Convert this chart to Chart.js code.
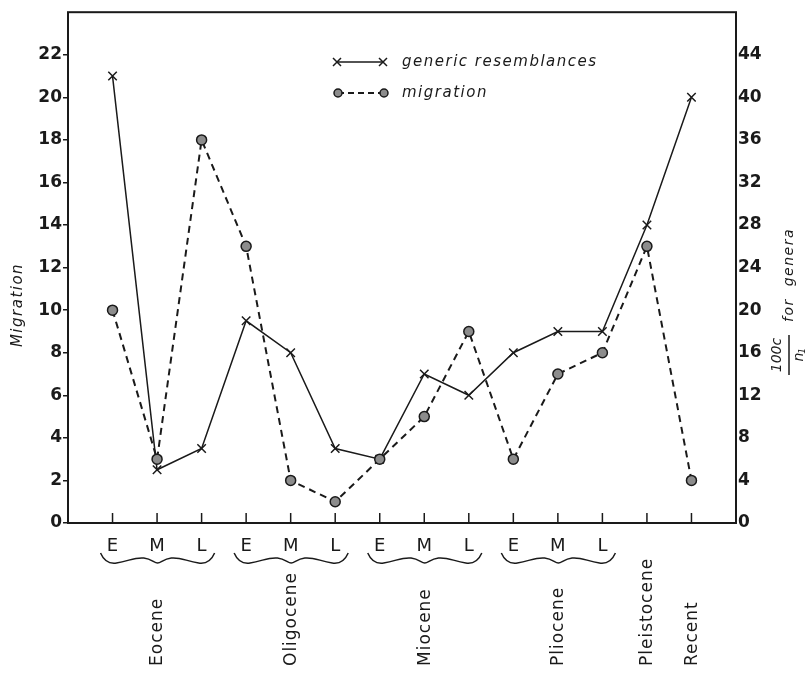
<!DOCTYPE html>
<html>
<head>
<meta charset="utf-8">
<script src="https://cdn.jsdelivr.net/npm/chart.js@4/dist/chart.umd.min.js"></script>
<style>
  body { margin: 0; background: #fff; }
  #wrap { width: 808px; height: 674px; position: relative; }
</style>
</head>
<body>
<div id="wrap"><canvas id="migrationChart"></canvas></div>
<script>
// stage labels under each tick (Pleistocene and Recent have none)
var stageLabels = ["E", "M", "L", "E", "M", "L", "E", "M", "L", "E", "M", "L", "", ""];
// epochs and the first/last stage index each one covers
var epochNames = ["Eocene", "Oligocene", "Miocene", "Pliocene", "Pleistocene", "Recent"];
var epochSpans = [[0, 2], [3, 5], [6, 8], [9, 11], [12, 12], [13, 13]];
// 100c/n1 for genera (right axis)
var genericValues = [42, 5, 7, 19, 16, 7, 6, 14, 12, 16, 18, 18, 28, 40];
// migration (left axis)
var migrationValues = [10, 3, 18, 13, 2, 1, 3, 5, 9, 3, 7, 8, 13, 2];

var ink = "#1a1a1a";
var tickFont = { family: "DejaVu Sans", size: 17, weight: "bold" };

function toPoints(values) {
    return values.map(function(v, i) { return { x: i, y: v }; });
}

// wavy curly brace, ends up, dip in the middle
function brace(ctx, x0, x1, y) {
    var w = x1 - x0;
    ctx.beginPath();
    ctx.moveTo(x0, y - 2);
    ctx.bezierCurveTo(x0 + w * 0.03, y + 6, x0 + w * 0.08, y + 9, x0 + w * 0.14, y + 8);
    ctx.bezierCurveTo(x0 + w * 0.25, y + 6, x0 + w * 0.3, y + 2, x0 + w * 0.38, y + 3);
    ctx.bezierCurveTo(x0 + w * 0.45, y + 4, x0 + w * 0.47, y + 8, x0 + w * 0.5, y + 8);
    ctx.bezierCurveTo(x0 + w * 0.53, y + 8, x0 + w * 0.55, y + 4, x0 + w * 0.62, y + 3);
    ctx.bezierCurveTo(x0 + w * 0.7, y + 2, x0 + w * 0.75, y + 6, x0 + w * 0.86, y + 8);
    ctx.bezierCurveTo(x0 + w * 0.92, y + 9, x0 + w * 0.97, y + 6, x1, y - 2);
    ctx.stroke();
}

var decorPlugin = {
    id: "decor",
    afterDraw: function(chart) {
        var ctx = chart.ctx;
        var area = chart.chartArea;
        var xs = chart.scales.x;
        ctx.save();
        ctx.strokeStyle = ink;
        ctx.fillStyle = ink;

        // frame
        ctx.lineWidth = 2;
        ctx.strokeRect(area.left, area.top, area.right - area.left, area.bottom - area.top);

        // inward x ticks
        ctx.lineWidth = 1.5;
        stageLabels.forEach(function(_, i) {
            var px = xs.getPixelForValue(i);
            ctx.beginPath();
            ctx.moveTo(px, area.bottom);
            ctx.lineTo(px, area.bottom - 10);
            ctx.stroke();
        });

        // braces and epoch names
        ctx.lineWidth = 1.5;
        ctx.font = "17px 'DejaVu Sans'";
        ctx.letterSpacing = "1px";
        epochNames.forEach(function(name, k) {
            var a = xs.getPixelForValue(epochSpans[k][0]);
            var b = xs.getPixelForValue(epochSpans[k][1]);
            if (epochSpans[k][1] > epochSpans[k][0]) {
                brace(ctx, a - 12, b + 13, 555);
            }
            ctx.save();
            ctx.translate((a + b) / 2 + 1, 666);
            ctx.rotate(-Math.PI / 2);
            ctx.textAlign = "left";
            ctx.textBaseline = "middle";
            ctx.fillText(name, 0, 0);
            ctx.restore();
        });

        // left axis title
        ctx.font = "italic 15px 'DejaVu Sans'";
        ctx.letterSpacing = "1.5px";
        ctx.save();
        ctx.translate(18, 305);
        ctx.rotate(-Math.PI / 2);
        ctx.textAlign = "center";
        ctx.textBaseline = "middle";
        ctx.fillText("Migration", 0, 0);
        ctx.restore();

        // right axis title: 100c / n1 for genera
        ctx.save();
        ctx.translate(789, 300);
        ctx.rotate(-Math.PI / 2);
        ctx.textBaseline = "middle";
        ctx.textAlign = "left";
        ctx.font = "italic 14px 'DejaVu Sans'";
        ctx.letterSpacing = "1.5px";
        ctx.fillText("for  genera", -22, 0);
        ctx.font = "italic 14px 'DejaVu Sans'";
        ctx.letterSpacing = "0px";
        ctx.textAlign = "center";
        ctx.fillText("100c", -55, -12);
        ctx.fillText("n", -57, 10);
        ctx.font = "italic 9px 'DejaVu Sans'";
        ctx.fillText("1", -51, 14);
        ctx.lineWidth = 1.5;
        ctx.beginPath();
        ctx.moveTo(-75, 0);
        ctx.lineTo(-35, 0);
        ctx.stroke();
        ctx.restore();

        // legend
        ctx.lineWidth = 1.5;
        ctx.beginPath();
        ctx.moveTo(337, 62);
        ctx.lineTo(383, 62);
        ctx.stroke();
        [337, 383].forEach(function(cx) {
            ctx.beginPath();
            ctx.moveTo(cx - 4, 58); ctx.lineTo(cx + 4, 66);
            ctx.moveTo(cx - 4, 66); ctx.lineTo(cx + 4, 58);
            ctx.stroke();
        });
        ctx.lineWidth = 2;
        ctx.setLineDash([6, 4]);
        ctx.beginPath();
        ctx.moveTo(338, 93);
        ctx.lineTo(384, 93);
        ctx.stroke();
        ctx.setLineDash([]);
        ctx.lineWidth = 1.5;
        ctx.fillStyle = "#8c8c8c";
        [338, 384].forEach(function(cx) {
            ctx.beginPath();
            ctx.arc(cx, 93, 4, 0, Math.PI * 2);
            ctx.fill();
            ctx.stroke();
        });
        ctx.fillStyle = ink;
        ctx.font = "italic 15px 'DejaVu Sans'";
        ctx.letterSpacing = "1.5px";
        ctx.textAlign = "left";
        ctx.textBaseline = "middle";
        ctx.fillText("generic resemblances", 402, 62);
        ctx.fillText("migration", 402, 93);
        ctx.restore();
    }
};

document.addEventListener("DOMContentLoaded", function() {
    var ctx = document.getElementById("migrationChart").getContext("2d");

    new Chart(ctx, {
        type: "line",
        data: {
            datasets: [{
                label: "migration",
                data: toPoints(migrationValues),
                yAxisID: "y",
                borderColor: ink,
                borderWidth: 2,
                borderDash: [7, 5],
                pointStyle: "circle",
                pointRadius: 5,
                pointBackgroundColor: "#8c8c8c",
                pointBorderColor: ink,
                pointBorderWidth: 1.5,
                tension: 0
            }, {
                label: "generic resemblances",
                data: toPoints(genericValues),
                yAxisID: "y2",
                borderColor: ink,
                borderWidth: 1.5,
                pointStyle: "crossRot",
                pointRadius: 6,
                pointBorderColor: ink,
                pointBorderWidth: 1.5,
                tension: 0
            }]
        },
        options: {
            responsive: true,
            maintainAspectRatio: false,
            animation: false,
            layout: { padding: { top: 5 } },
            plugins: {
                legend: { display: false },
                tooltip: { enabled: false }
            },
            scales: {
                x: {
                    type: "linear",
                    min: -1,
                    max: 14,
                    afterFit: function(scale) { scale.height = 151; },
                    grid: { display: false },
                    border: { display: false },
                    ticks: {
                        stepSize: 1,
                        autoSkip: false,
                        maxRotation: 0,
                        padding: 5,
                        color: ink,
                        font: { family: "DejaVu Sans", size: 18 },
                        callback: function(v) { return stageLabels[v] || ""; }
                    }
                },
                y: {
                    position: "left",
                    min: 0,
                    max: 24,
                    afterFit: function(scale) { scale.width = 68; },
                    grid: {
                        drawOnChartArea: false,
                        drawTicks: true,
                        tickLength: 5,
                        color: function(c) { return c.tick && c.tick.value >= 24 ? "rgba(0,0,0,0)" : ink; },
                        lineWidth: 1.5
                    },
                    border: { display: false },
                    ticks: {
                        stepSize: 2,
                        padding: 1,
                        color: ink,
                        font: tickFont,
                        callback: function(v) { return v < 24 ? v : ""; }
                    }
                },
                y2: {
                    position: "right",
                    min: 0,
                    max: 48,
                    afterFit: function(scale) { scale.width = 72; },
                    grid: { display: false, drawTicks: false },
                    border: { display: false },
                    ticks: {
                        stepSize: 4,
                        padding: 2,
                        color: ink,
                        font: tickFont,
                        callback: function(v) { return v < 48 ? v : ""; }
                    }
                }
            }
        },
        plugins: [decorPlugin]
    });
});
</script>
</body>
</html>
